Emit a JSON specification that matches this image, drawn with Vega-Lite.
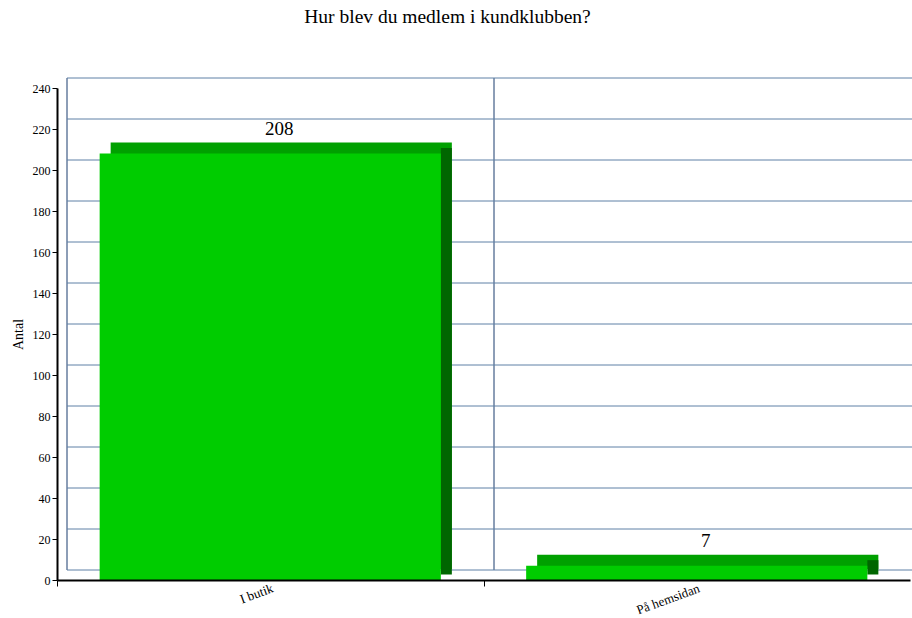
{
  "$schema": "https://vega.github.io/schema/vega-lite/v6.json",
  "autosize": "none",
  "width": 853,
  "height": 492,
  "padding": {"left": 57, "top": 88, "right": 2, "bottom": 38},
  "background": "white",
  "config": {
    "view": {"stroke": null},
    "font": "Liberation Serif",
    "axis": {"labelFont": "Liberation Serif", "titleFont": "Liberation Serif"}
  },
  "title": {
    "text": "Hur blev du medlem i kundklubben?",
    "font": "Liberation Serif",
    "fontSize": 19.5,
    "fontWeight": "normal",
    "color": "black",
    "anchor": "middle",
    "dx": -36,
    "offset": 55
  },
  "data": {
    "values": [
      {"kategori": "I butik", "antal": 208},
      {"kategori": "På hemsidan", "antal": 7}
    ]
  },
  "resolve": {"axis": {"x": "independent", "y": "independent"}},
  "layer": [
    {
      "mark": {"type": "bar", "color": "#00a000", "xOffset": 11, "x2Offset": 11, "yOffset": -11, "y2Offset": -11},
      "encoding": {
        "x": {
          "field": "kategori", "type": "nominal", "sort": null,
          "scale": {"paddingInner": 0.2, "paddingOuter": 0.1},
          "axis": {
            "orient": "bottom", "grid": true, "gridColor": "#1a3d6e", "gridWidth": 1,
            "translate": -10, "tickOffset": -193.25,
            "domain": false, "ticks": false, "labels": false, "title": null, "zindex": 0
          }
        },
        "y": {
          "field": "antal", "type": "quantitative",
          "scale": {"domain": [0, 240], "nice": false, "zero": true},
          "axis": {
            "orient": "left", "grid": true, "gridColor": "#5f80a6", "gridWidth": 1,
            "values": [0, 20, 40, 60, 80, 100, 120, 140, 160, 180, 200, 220, 240],
            "translate": 10, "tickOffset": -20,
            "domain": false, "ticks": false, "labels": false, "title": null, "zindex": 0
          }
        }
      }
    },
    {
      "mark": {"type": "rule", "color": "#006600", "strokeWidth": 11, "xOffset": 5.5, "x2Offset": 5.5, "yOffset": -5.5, "y2Offset": -5.5},
      "encoding": {
        "x": {"field": "kategori", "type": "nominal", "sort": null, "bandPosition": 1, "axis": null},
        "y": {"field": "antal", "type": "quantitative", "axis": null},
        "y2": {"datum": 0}
      }
    },
    {
      "mark": {"type": "bar", "color": "#00cc00"},
      "encoding": {
        "x": {
          "field": "kategori", "type": "nominal", "sort": null,
          "axis": {
            "orient": "bottom", "grid": false,
            "tickOffset": -213.25, "labelOffset": 213.25,
            "title": null, "labelAngle": -20, "labelAlign": "right", "labelBaseline": "top",
            "labelFontSize": 13, "labelColor": "black", "labelPadding": -4,
            "domainColor": "black", "domainWidth": 2, "tickColor": "black", "tickSize": 6, "tickWidth": 1,
            "zindex": 2
          }
        },
        "y": {
          "field": "antal", "type": "quantitative",
          "axis": {
            "orient": "left", "grid": false,
            "values": [0, 20, 40, 60, 80, 100, 120, 140, 160, 180, 200, 220, 240],
            "title": "Antal", "titleFontSize": 14, "titleFontWeight": "normal", "titleColor": "black", "titlePadding": 7,
            "labelFontSize": 12, "labelColor": "black", "labelPadding": 2,
            "domainColor": "black", "domainWidth": 2, "tickColor": "black", "tickSize": 5, "tickWidth": 1,
            "zindex": 2
          }
        }
      }
    },
    {
      "mark": {"type": "text", "font": "Liberation Serif", "fontSize": 19, "color": "black", "baseline": "bottom", "dx": 9, "dy": -15},
      "encoding": {
        "x": {"field": "kategori", "type": "nominal", "sort": null, "axis": null},
        "y": {"field": "antal", "type": "quantitative", "axis": null},
        "text": {"field": "antal", "type": "quantitative"}
      }
    }
  ]
}
